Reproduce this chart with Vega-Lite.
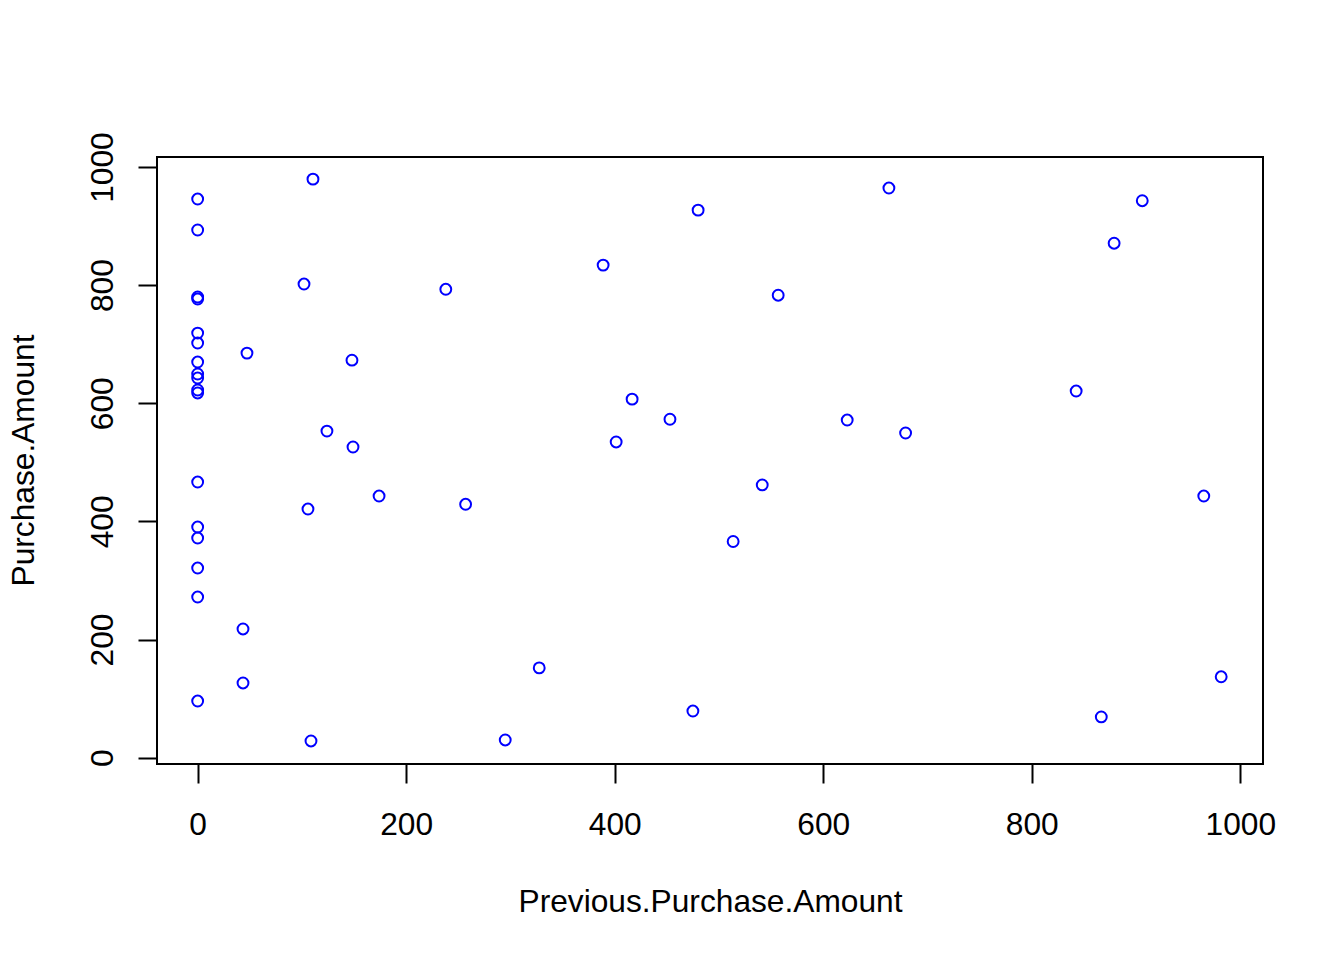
{
  "$schema": "https://vega.github.io/schema/vega-lite/v6.json",
  "width": 1106,
  "height": 607,
  "autosize": {"type": "none"},
  "padding": {"left": 157, "top": 157, "right": 81, "bottom": 196},
  "background": "white",
  "config": {
    "view": {"stroke": "black", "strokeWidth": 2},
    "axis": {
      "domain": false,
      "grid": false,
      "ticks": true,
      "tickColor": "black",
      "tickWidth": 2,
      "tickSize": 19,
      "labelFont": "Liberation Sans",
      "labelFontSize": 31.7,
      "labelColor": "black",
      "titleFont": "Liberation Sans",
      "titleFontSize": 31.7,
      "titleFontWeight": "normal",
      "titleColor": "black"
    }
  },
  "data": {
    "values": [
      {"prev": 0, "amt": 945.8},
      {"prev": 0, "amt": 893.4},
      {"prev": 0, "amt": 779.9},
      {"prev": 0, "amt": 776.5},
      {"prev": 0, "amt": 718.9},
      {"prev": 0, "amt": 702},
      {"prev": 0, "amt": 669.9},
      {"prev": 0, "amt": 649.6},
      {"prev": 0, "amt": 642.8},
      {"prev": 0, "amt": 622.5},
      {"prev": 0, "amt": 617.5},
      {"prev": 0, "amt": 466.7},
      {"prev": 0, "amt": 390.5},
      {"prev": 0, "amt": 371.9},
      {"prev": 0, "amt": 321.1},
      {"prev": 0, "amt": 272},
      {"prev": 0, "amt": 95.9},
      {"prev": 47.3, "amt": 685},
      {"prev": 43.5, "amt": 217.9},
      {"prev": 43.5, "amt": 126.5},
      {"prev": 110.6, "amt": 979.5},
      {"prev": 102, "amt": 801.9},
      {"prev": 148, "amt": 673},
      {"prev": 124, "amt": 553},
      {"prev": 149, "amt": 526},
      {"prev": 174, "amt": 443},
      {"prev": 105.8, "amt": 421},
      {"prev": 108.7, "amt": 28.3},
      {"prev": 238, "amt": 793},
      {"prev": 257, "amt": 429},
      {"prev": 295, "amt": 30},
      {"prev": 327.6, "amt": 152},
      {"prev": 388.9, "amt": 834},
      {"prev": 401.4, "amt": 534.5},
      {"prev": 416.7, "amt": 607},
      {"prev": 453, "amt": 573},
      {"prev": 480, "amt": 927},
      {"prev": 475, "amt": 79},
      {"prev": 513.6, "amt": 366},
      {"prev": 541.5, "amt": 461.8},
      {"prev": 556.8, "amt": 783},
      {"prev": 623, "amt": 571.7},
      {"prev": 663, "amt": 964.5},
      {"prev": 679, "amt": 549.7},
      {"prev": 842.6, "amt": 620.8},
      {"prev": 879, "amt": 871},
      {"prev": 866.7, "amt": 69},
      {"prev": 906, "amt": 943},
      {"prev": 965, "amt": 443},
      {"prev": 981.7, "amt": 137}
    ]
  },
  "mark": {"type": "point", "shape": "circle", "filled": false, "color": "#0000FF", "size": 118, "strokeWidth": 2, "opacity": 1},
  "encoding": {
    "x": {
      "field": "prev",
      "type": "quantitative",
      "scale": {"domain": [-39, 1021.8], "nice": false, "zero": false},
      "axis": {
        "values": [0, 200, 400, 600, 800, 1000],
        "format": "d",
        "labelPadding": 51,
        "labelBaseline": "alphabetic",
        "title": "Previous.Purchase.Amount",
        "titleBaseline": "alphabetic",
        "titleY": 147,
        "titleX": 553
      }
    },
    "y": {
      "field": "amt",
      "type": "quantitative",
      "scale": {"domain": [-10.7, 1017], "nice": false, "zero": false},
      "axis": {
        "values": [0, 200, 400, 600, 800, 1000],
        "format": "d",
        "labelAngle": -90,
        "labelAlign": "center",
        "labelBaseline": "alphabetic",
        "labelPadding": 26,
        "title": "Purchase.Amount",
        "titleAngle": -90,
        "titleAlign": "center",
        "titleBaseline": "alphabetic",
        "titleX": -124,
        "titleY": 303
      }
    }
  }
}
